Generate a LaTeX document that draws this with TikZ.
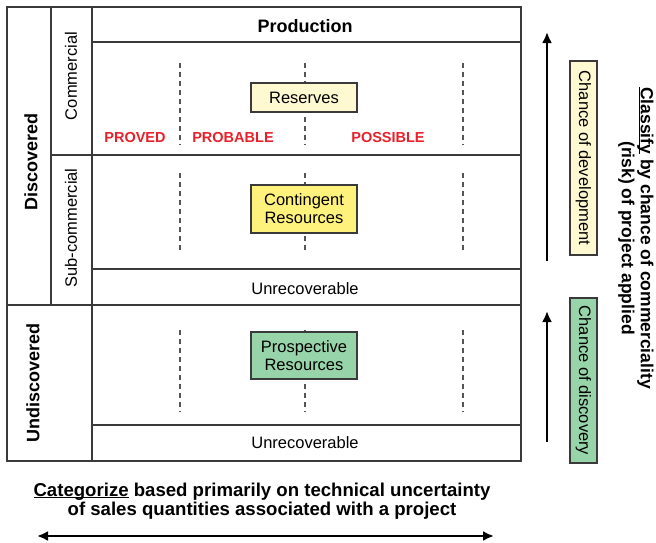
\documentclass[tikz,border=0pt]{standalone}
\usepackage{fontspec}
\setmainfont{Liberation Sans}
\usetikzlibrary{arrows.meta}
\definecolor{gridc}{HTML}{3A3A3A}
\definecolor{dashc}{HTML}{555555}
\definecolor{paleyel}{HTML}{FFF9D2}
\definecolor{yel}{HTML}{FFF27C}
\definecolor{grn}{HTML}{98D4A9}
\definecolor{redlab}{HTML}{E8202A}
\newcommand\myul[1]{\setbox0\hbox{#1}\rlap{\rule[-2.2pt]{\wd0}{1.3pt}}#1}
\tikzset{
  gridline/.style={draw=gridc, line width=1.3pt},
  dashline/.style={draw=dashc, line width=1.1pt, dash pattern=on 5pt off 4pt},
  catbox/.style={draw=gridc, line width=1.2pt, align=center, inner sep=0pt,
    font=\fontsize{16.5}{18}\selectfont},
  reg/.style={font=\fontsize{16.5}{18}\selectfont, inner sep=0pt},
  bld/.style={font=\fontsize{18}{20}\selectfont\bfseries, inner sep=0pt},
  redl/.style={font=\fontsize{14.5}{16}\selectfont\bfseries, text=redlab, inner sep=0pt},
  bigarrow/.style={line width=2.3pt, -{Latex[length=11pt,width=10pt]}},
}
\begin{document}
\begin{tikzpicture}[x=1pt,y=-1pt]
\useasboundingbox (0,0) rectangle (656,542);
% grid
\draw[gridline] (7,7) rectangle (521,461);
\draw[gridline] (51,7) -- (51,305);
\draw[gridline] (92,7) -- (92,461);
\draw[gridline] (92,42) -- (521,42);
\draw[gridline] (51,155) -- (521,155);
\draw[gridline] (92,269) -- (521,269);
\draw[gridline] (7,305) -- (521,305);
\draw[gridline] (92,425) -- (521,425);
% dashed lines
\foreach \xx in {180,305,463} {
  \draw[dashline] (\xx,63) -- (\xx,145);
  \draw[dashline] (\xx,173) -- (\xx,253);
  \draw[dashline] (\xx,330) -- (\xx,412);
}
% boxes
\node[catbox, fill=paleyel, minimum width=106pt, minimum height=29pt] (res) at (304,97.5) {Reserves};
\node[catbox, fill=yel, minimum width=106pt, minimum height=48pt] (cont) at (304,209) {Contingent\\Resources};
\node[catbox, fill=grn, minimum width=106pt, minimum height=47pt] (pros) at (304,355.5) {Prospective\\Resources};
% labels
\node[bld] (prod) at (305,26) {Production};
\node[reg] (unrec1) at (305,289) {Unrecoverable};
\node[reg] (unrec2) at (305,443) {Unrecoverable};
\node[redl] (proved) at (135,138) {PROVED};
\node[redl] (probable) at (233,138) {PROBABLE};
\node[redl] (possible) at (388,138) {POSSIBLE};
\node[reg, rotate=90] (comm) at (71,76) {Commercial};
\node[reg, rotate=90] (subc) at (71,228) {Sub-commercial};
\node[bld, rotate=90] (disc) at (31,162) {Discovered};
\node[bld, rotate=90] (undisc) at (33,383) {Undiscovered};
% right side
\node[draw=gridc, line width=1.2pt, fill=paleyel, minimum width=27pt, minimum height=194pt, inner sep=0pt] (devbox) at (583.5,158) {};
\node[reg, rotate=-90] (devtxt) at (devbox.center) {Chance of development};
\node[draw=gridc, line width=1.2pt, fill=grn, minimum width=27pt, minimum height=165pt, inner sep=0pt] (discbox) at (583.5,380.5) {};
\node[reg, rotate=-90] (disctxt) at (discbox.center) {Chance of discovery};
\coordinate (a1s) at (547,261);
\coordinate (a1e) at (547,32);
\coordinate (a2s) at (547,442);
\coordinate (a2e) at (547,311);
\draw[bigarrow] (a1s) -- (a1e);
\draw[bigarrow] (a2s) -- (a2e);
\node[font=\fontsize{17.5}{19}\selectfont\bfseries, inner sep=0pt, rotate=-90, align=center] (classify) at (636,238) {\myul{Classify} by chance of commerciality\\(risk) of project applied};
% bottom
\node[font=\fontsize{18.6}{19.5}\selectfont\bfseries, inner sep=0pt, align=center] (categ) at (262,501) {\myul{Categorize} based primarily on technical uncertainty\\of sales quantities associated with a project};
\coordinate (b1) at (37,536);
\coordinate (b2) at (494,536);
\draw[line width=2.4pt, {Latex[length=11pt,width=10pt]}-{Latex[length=11pt,width=10pt]}] (b1) -- (b2);
\end{tikzpicture}
\end{document}
